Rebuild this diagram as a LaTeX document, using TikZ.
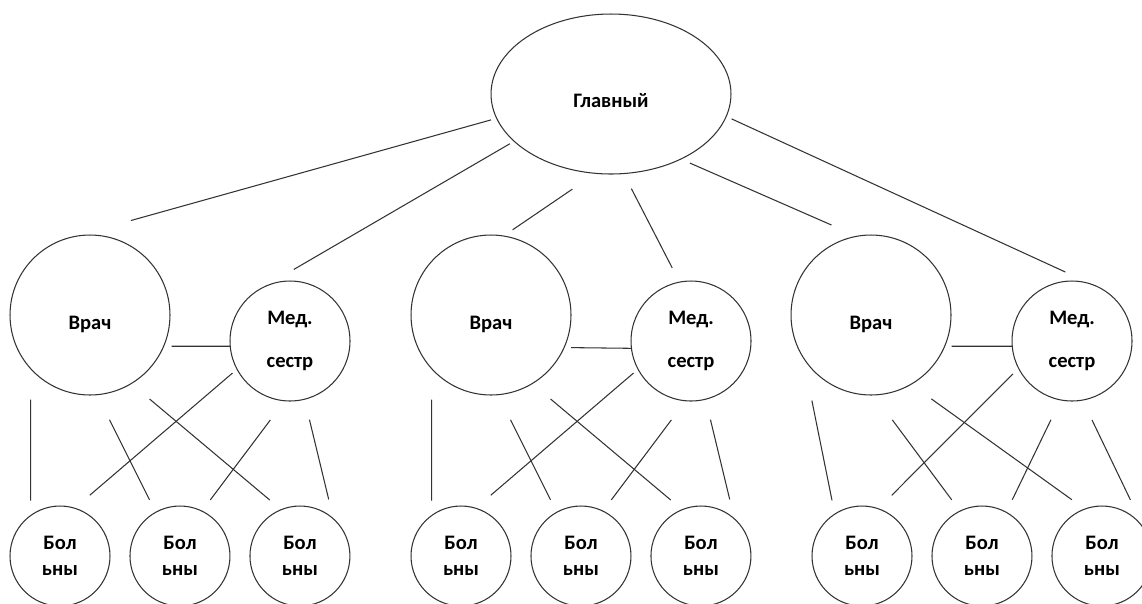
\documentclass[tikz,border=0pt]{standalone}
\usepackage{fontspec}
\setmainfont{Carlito}
\usetikzlibrary{shapes.geometric}

\tikzset{
  every node/.style={font=\bfseries\fontsize{11.7pt}{14.8pt}\selectfont},
  unit/.style={draw=black!80,line width=0.6pt,inner sep=0pt,outer sep=0pt},
  chiefbox/.style={unit,ellipse,minimum width=4.8cm,minimum height=3.2cm,text height=15.6pt,text depth=0pt},
  doctor/.style={unit,circle,minimum size=3.2cm,text height=17pt,text depth=0pt},
  nurse/.style={unit,circle,minimum size=2.4cm,align=center,font=\bfseries\fontsize{11.7pt}{24.5pt}\selectfont},
  patient/.style={unit,circle,minimum size=2cm,align=center},
  gap/.style 2 args={shorten <=#1*0.02cm,shorten >=#2*0.02cm}
}

\begin{document}
\begin{tikzpicture}[x=0.02cm,y=-0.02cm,node distance=2.4cm,
    every edge/.style={draw=black!80,line width=0.6pt}]

  \useasboundingbox (0,0) rectangle (1142,603);

  \node[chiefbox] (chief) at (611,94) {Главный};

  \node[doctor]  (v1) at (90,315)   {Врач};
  \node[nurse]   (m1) at (290,341)  {Мед.\\сестр};
  \node[patient] (b1) at (60,556)   {Бол\\ьны};
  \node[patient] (b2) [right of=b1] {Бол\\ьны};
  \node[patient] (b3) [right of=b2] {Бол\\ьны};

  \node[doctor]  (v2) at (491,315)  {Врач};
  \node[nurse]   (m2) at (691,341)  {Мед.\\сестр};
  \node[patient] (b4) at (461,556)  {Бол\\ьны};
  \node[patient] (b5) [right of=b4] {Бол\\ьны};
  \node[patient] (b6) [right of=b5] {Бол\\ьны};

  \node[doctor]  (v3) at (871,315)  {Врач};
  \node[nurse]   (m3) at (1072,341) {Мед.\\сестр};
  \node[patient] (b7) at (862,556)  {Бол\\ьны};
  \node[patient] (b8) [right of=b7] {Бол\\ьны};
  \node[patient] (b9) [right of=b8] {Бол\\ьны};

  % top level
  \path (chief.192) edge [gap={6}{64}]  (v1.105)
        (chief.206) edge [gap={5}{37}]  (m1.118)
        (chief.259) edge [gap={28}{11}] (v2.81)
        (chief.279) edge [gap={17}{16}] (m2.101)
        (chief.317) edge [gap={10}{28}] (v3.100)
        (chief.349) edge [gap={6}{32}]  (m3.68);

  % first group
  \path (v1.337) edge [gap={8}{0}]   (m1.185)
        (v1.222) edge [gap={31}{15}] (b1.126)
        (v1.275) edge [gap={28}{14}] (b2.119)
        (v1.301) edge [gap={24}{15}] (b3.112)
        (m1.208) edge [gap={6}{20}]  (b1.73)
        (m1.265) edge [gap={24}{14}] (b2.64)
        (m1.284) edge [gap={21}{20}] (b3.48);

  % second group
  \path (v2.336) edge [gap={7}{0}]   (m2.187)
        (v2.222) edge [gap={31}{15}] (b4.126)
        (v2.275) edge [gap={28}{14}] (b5.119)
        (v2.301) edge [gap={24}{15}] (b6.112)
        (m2.208) edge [gap={6}{20}]  (b4.73)
        (m2.265) edge [gap={24}{14}] (b5.64)
        (m2.284) edge [gap={21}{20}] (b6.48);

  % third group
  \path (v3.337) edge [gap={7}{0}]   (m3.185)
        (v3.212) edge [gap={44}{14}] (b7.123)
        (v3.272) edge [gap={31}{14}] (b8.116)
        (v3.300) edge [gap={25}{16}] (b9.110)
        (m3.207) edge [gap={8}{19}]  (b7.71)
        (m3.259) edge [gap={22}{14}] (b8.61)
        (m3.280) edge [gap={22}{37}] (b9.27);
\end{tikzpicture}
\end{document}
